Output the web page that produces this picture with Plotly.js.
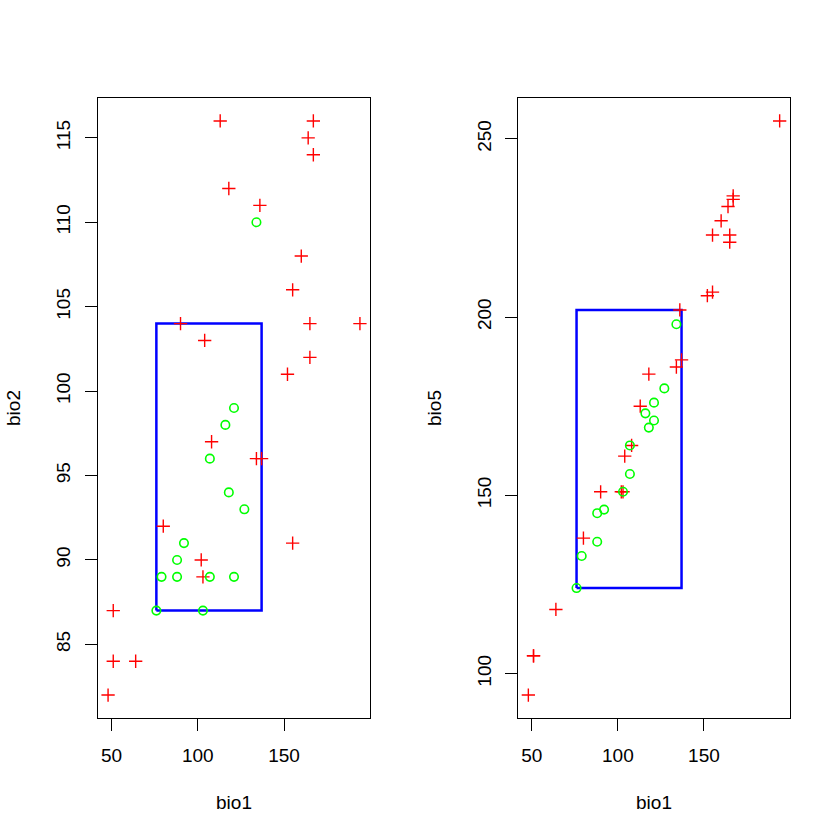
<!DOCTYPE html>
<html>
<head>
<meta charset="utf-8">
<script src="https://cdn.plot.ly/plotly-3.0.1.min.js"></script>
<style>html,body{margin:0;padding:0;background:#fff;}#plot{width:840px;height:840px;}</style>
</head>
<body>
<div id="plot"></div>
<script>
// Red crosses
const redBio1 = [113,167,164,167,118,136,160,155,165,194,90,104,165,152,108,134,137,80,155,102,103,51,51,64,48];
const redBio2 = [116,116,115,114,112,111,108,106,104,104,104,103,102,101,97,96,96,92,91,90,89,87,84,84,82];
const redBio5 = [175,234,231,233,184,202,227,223,223,255,151,161,221,206,164,186,188,138,207,151,151,105,105,118,94];
// Green circles
const greenBio1 = [134,121,116,107,118,127,92,88,79,88,107,121,103,76];
const greenBio2 = [110,99,98,96,94,93,91,90,89,89,89,89,87,87];
const greenBio5 = [198,176,173,164,169,180,146,145,133,137,156,171,151,124];
// Envelope box
const boxBio1 = [76,137];
const boxBio2 = [87,104];
const boxBio5 = [124,202];

const xTicks = [50,100,150];
const y2Ticks = [85,90,95,100,105,110,115];
const y5Ticks = [100,150,200,250];

function rect(xr, yr){ return {x:[xr[0],xr[1],xr[1],xr[0],xr[0]], y:[yr[0],yr[0],yr[1],yr[1],yr[0]]}; }
const r1 = rect(boxBio1, boxBio2), r2 = rect(boxBio1, boxBio5);

const crossM = {symbol:'cross-thin-open', size:9.5, color:'#FF0000', line:{color:'#FF0000', width:1.4}};
const circM = {symbol:'circle-open', size:8.5, color:'#00FF00', line:{color:'#00FF00', width:1.6}};

const data = [
  {type:'scatter', mode:'lines', x:r1.x, y:r1.y, xaxis:'x', yaxis:'y', line:{color:'#0000FF', width:2.5}, hoverinfo:'skip'},
  {type:'scatter', mode:'markers', x:redBio1, y:redBio2, xaxis:'x', yaxis:'y', marker:crossM},
  {type:'scatter', mode:'markers', x:greenBio1, y:greenBio2, xaxis:'x', yaxis:'y', marker:circM},
  {type:'scatter', mode:'lines', x:r2.x, y:r2.y, xaxis:'x2', yaxis:'y2', line:{color:'#0000FF', width:2.5}, hoverinfo:'skip'},
  {type:'scatter', mode:'markers', x:redBio1, y:redBio5, xaxis:'x2', yaxis:'y2', marker:crossM},
  {type:'scatter', mode:'markers', x:greenBio1, y:greenBio5, xaxis:'x2', yaxis:'y2', marker:circM}
];

const font = {family:'Liberation Sans, Arial, sans-serif', size:19, color:'#000'};
const axBase = {showgrid:false, zeroline:false, showline:true, mirror:true, linecolor:'#000', linewidth:1,
  ticks:'outside', ticklen:12, tickwidth:1, tickcolor:'#000', tickfont:font, automargin:false};

const layout = {
  width:840, height:840, margin:{l:0,r:0,t:0,b:0}, showlegend:false,
  paper_bgcolor:'#fff', plot_bgcolor:'#fff', font:font,
  xaxis: Object.assign({}, axBase, {domain:[98/840, 370/840], range:[42.16,199.84], tickvals:xTicks, anchor:'y',
    ticklabelstandoff:8, title:{text:'bio1', font:font, standoff:30}}),
  yaxis: Object.assign({}, axBase, {domain:[1-718/840, 1-98/840], range:[80.64,117.36], tickvals:y2Ticks, anchor:'x',
    tickangle:-90, ticklabelstandoff:7, title:{text:'bio2', font:font, standoff:27}}),
  xaxis2: Object.assign({}, axBase, {domain:[518.3/840, 789.7/840], range:[42.16,199.84], tickvals:xTicks, anchor:'y2',
    ticklabelstandoff:8, title:{text:'bio1', font:font, standoff:30}}),
  yaxis2: Object.assign({}, axBase, {domain:[1-718/840, 1-98/840], range:[87.56,261.44], tickvals:y5Ticks, anchor:'x2',
    tickangle:-90, ticklabelstandoff:7, title:{text:'bio5', font:font, standoff:27}})
};

Plotly.newPlot('plot', data, layout, {displayModeBar:false, staticPlot:true});
</script>
</body>
</html>
